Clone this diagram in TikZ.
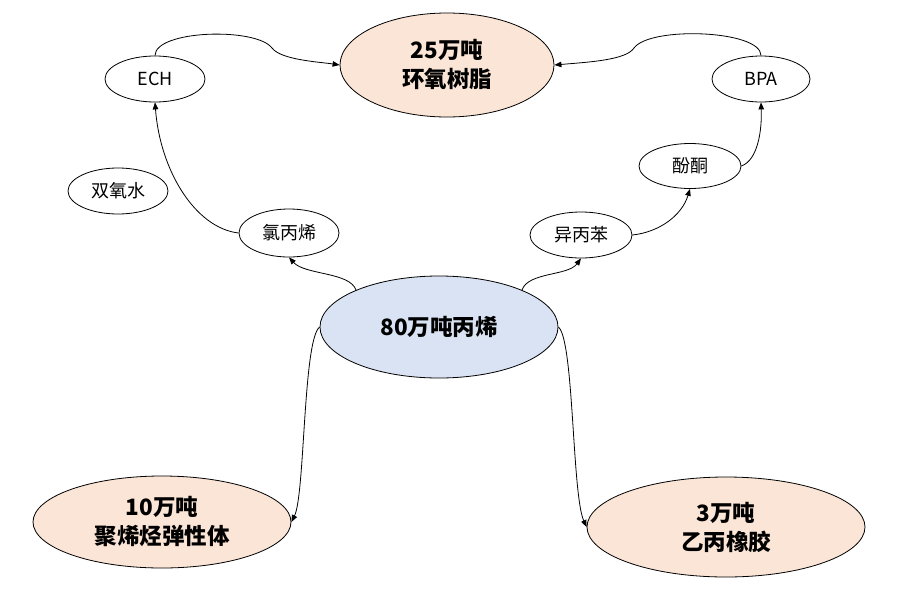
\documentclass[tikz,border=0pt]{standalone}
\usepackage{fontspec}
\setmainfont{Noto Sans CJK SC}
\usetikzlibrary{shapes.geometric,arrows.meta}
\definecolor{peach}{HTML}{FBE5D6}
\definecolor{paleblue}{HTML}{DAE3F3}
\tikzset{
  ell/.style={ellipse, draw=black, line width=0.8pt, inner sep=0pt},
  small/.style={ell, fill=white, font=\fontsize{18}{21}\selectfont},
  big/.style={ell, fill=peach, font=\fontsize{22.5}{29}\selectfont\bfseries, align=center},
  link/.style={draw=black, line width=0.8pt, -{Triangle[length=7pt,width=5.5pt]}}
}
\begin{document}
\begin{tikzpicture}[x=1pt,y=-1pt]
\useasboundingbox (0,0) rectangle (901,605);
\node[big, minimum width=214pt, minimum height=104pt] (epoxy) at (447,65) {25万吨\\环氧树脂};
\node[small, minimum width=100pt, minimum height=46pt] (ech) at (155,79) {ECH};
\node[small, minimum width=98pt, minimum height=46pt] (bpa) at (761,79) {BPA};
\node[small, minimum width=102pt, minimum height=45pt] (phenol) at (690,166) {酚酮};
\node[small, minimum width=100pt, minimum height=46pt] (h2o2) at (118,191) {双氧水};
\node[small, minimum width=100pt, minimum height=48pt] (chloro) at (289,233) {氯丙烯};
\node[small, minimum width=102pt, minimum height=46pt] (cumene) at (581,235) {异丙苯};
\node[ell, fill=paleblue, minimum width=238pt, minimum height=102pt, font=\fontsize{22.5}{29}\selectfont\bfseries] (prop) at (439,327) {80万吨丙烯};
\node[big, minimum width=258pt, minimum height=92pt] (poe) at (162,522) {10万吨\\聚烯烃弹性体};
\node[big, minimum width=278pt, minimum height=100pt] (epr) at (726,527) {3万吨\\乙丙橡胶};

\draw[link] (ech.north) .. controls (155,30) and (256,27) .. (272,48) .. controls (281,60) and (320,62) .. (epoxy.west);
\draw[link] (bpa.north) .. controls (761,30) and (650,26) .. (634,48) .. controls (626,60) and (590,62) .. (epoxy.east);
\draw[link] (chloro.west) .. controls (195,228) and (160,170) .. (ech.south);
\draw[link] (prop.156) .. controls (350,272) and (305,275) .. (chloro.south);
\draw[link] (prop.24) .. controls (528,272) and (568,276) .. (cumene.south);
\draw[link] (cumene.east) .. controls (660,232) and (682,215) .. (phenol.south);
\draw[link] (phenol.east) .. controls (758,160) and (762,130) .. (bpa.south);
\draw[link] (prop.west) .. controls (303,340) and (305,495) .. (poe.east);
\draw[link] (prop.east) .. controls (574,340) and (572,495) .. (epr.west);
\end{tikzpicture}
\end{document}
